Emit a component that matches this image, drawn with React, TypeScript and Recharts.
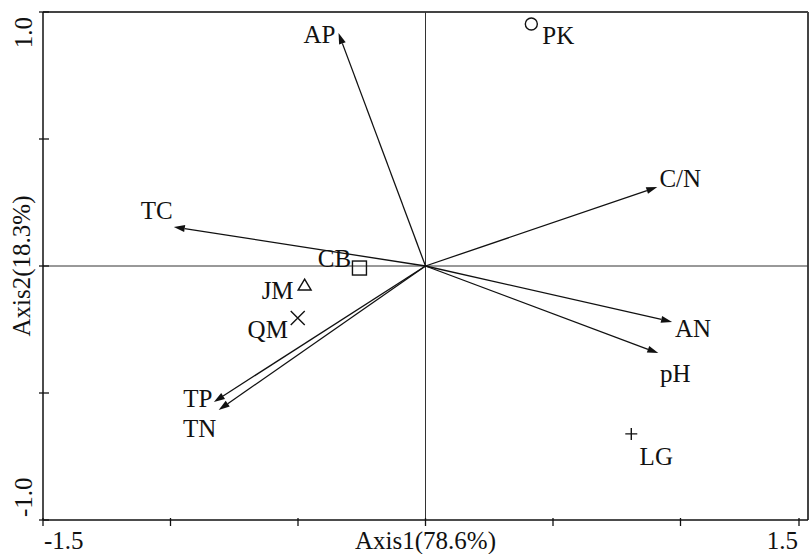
import { Label, ReferenceLine, Scatter, ScatterChart, XAxis, YAxis } from "recharts";

// environmental variables (arrows)
const varNames = ["AP", "C/N", "TC", "AN", "pH", "TP", "TN"];
const varAxis1 = [-0.341, 0.909, -0.987, 0.967, 0.913, -0.83, -0.811];
const varAxis2 = [0.917, 0.311, 0.154, -0.22, -0.343, -0.535, -0.567];

// sites (symbols)
const siteNames = ["PK", "CB", "JM", "QM", "LG"];
const siteAxis1 = [0.415, -0.259, -0.474, -0.501, 0.807];
const siteAxis2 = [0.953, -0.008, -0.075, -0.205, -0.661];

const xTicks = [-1.5, -1, -0.5, 0, 0.5, 1, 1.5];
const yTicks = [-1, -0.5, 0, 0.5, 1];

const FONT = "'Liberation Serif', 'Times New Roman', serif";
const INK = "#111";
const FS = 25;

// label placement (px from the point)
const varLabelOffset: Record<string, [number, number]> = {
  AP: [-19, 10],
  "C/N": [23, 0],
  TC: [-17, -8],
  AN: [21, 15],
  pH: [17, 29],
  TP: [-16, 5],
  TN: [-19, 27],
};

const siteStyle: Record<string, { marker: string; dx: number; dy: number }> = {
  PK: { marker: "circle", dx: 27, dy: 20 },
  CB: { marker: "square", dx: -25, dy: -1 },
  JM: { marker: "triangle", dx: -27, dy: 14 },
  QM: { marker: "cross", dx: -30, dy: 20 },
  LG: { marker: "plus", dx: 25, dy: 31 },
};

const siteData = siteNames.map((name, i) => ({ name, x: siteAxis1[i], y: siteAxis2[i] }));

function Arrow(props: any) {
  const { x1, y1, x2, y2, name } = props;
  const ang = Math.atan2(y2 - y1, x2 - x1);
  const len = 11;
  const hw = 3.5;
  const bx = x2 - len * Math.cos(ang);
  const by = y2 - len * Math.sin(ang);
  const px = -Math.sin(ang) * hw;
  const py = Math.cos(ang) * hw;
  const [dx, dy] = varLabelOffset[name];
  return (
    <g>
      <line x1={x1} y1={y1} x2={bx} y2={by} stroke={INK} strokeWidth={1.3} />
      <polygon points={`${x2},${y2} ${bx + px},${by + py} ${bx - px},${by - py}`} fill={INK} />
      <text x={x2 + dx} y={y2 + dy} textAnchor="middle" fontSize={FS} fontFamily={FONT} fill={INK}>
        {name}
      </text>
    </g>
  );
}

function SiteMarker(props: any) {
  const { cx, cy, payload } = props;
  const st = siteStyle[payload.name];
  const s = { stroke: INK, strokeWidth: 1.4, fill: "none" };
  let mark = null;
  if (st.marker === "circle") mark = <circle cx={cx} cy={cy} r={6} {...s} />;
  if (st.marker === "square") mark = <rect x={cx - 7} y={cy - 7} width={14} height={14} {...s} />;
  if (st.marker === "triangle")
    mark = <polygon points={`${cx},${cy - 6} ${cx + 6.5},${cy + 5} ${cx - 6.5},${cy + 5}`} {...s} />;
  if (st.marker === "cross")
    mark = <path d={`M${cx - 7},${cy - 7}L${cx + 7},${cy + 7}M${cx + 7},${cy - 7}L${cx - 7},${cy + 7}`} {...s} />;
  if (st.marker === "plus")
    mark = <path d={`M${cx - 6},${cy}L${cx + 6},${cy}M${cx},${cy - 6}L${cx},${cy + 6}`} {...s} />;
  return (
    <g>
      {mark}
      <text x={cx + st.dx} y={cy + st.dy} textAnchor="middle" fontSize={FS} fontFamily={FONT} fill={INK}>
        {payload.name}
      </text>
    </g>
  );
}

function XTick(props: any) {
  const { x, y, payload } = props;
  const v = payload.value;
  return (
    <g>
      <line x1={x} y1={y - 2} x2={x} y2={y + 6} stroke={INK} strokeWidth={1.3} />
      {v === -1.5 && (
        <text x={x + 1} y={y + 29} textAnchor="start" fontSize={FS} fontFamily={FONT} fill={INK}>
          -1.5
        </text>
      )}
      {v === 1.5 && (
        <text x={x - 1} y={y + 29} textAnchor="end" fontSize={FS} fontFamily={FONT} fill={INK}>
          1.5
        </text>
      )}
    </g>
  );
}

function YTick(props: any) {
  const { x, y, payload } = props;
  const v = payload.value;
  return (
    <g>
      <line x1={x - 4} y1={y} x2={x + 6} y2={y} stroke={INK} strokeWidth={1.3} />
      {v === 1 && (
        <text transform={`translate(${x - 11},${y + 5}) rotate(-90)`} textAnchor="end" fontSize={FS} fontFamily={FONT} fill={INK}>
          1.0
        </text>
      )}
      {v === -1 && (
        <text transform={`translate(${x - 11},${y - 3}) rotate(-90)`} textAnchor="start" fontSize={FS} fontFamily={FONT} fill={INK}>
          -1.0
        </text>
      )}
    </g>
  );
}

export default function App() {
  return (
    <div style={{ position: "absolute", left: 0, top: 0, background: "#fff" }}>
      <ScatterChart width={809} height={554} margin={{ top: 12, right: 1, bottom: 0, left: 0 }}>
        <XAxis
          type="number"
          dataKey="x"
          domain={[-1.5, 1.5]}
          ticks={xTicks}
          height={34}
          tickSize={0}
          tickMargin={0}
          tick={<XTick />}
          axisLine={{ stroke: INK, strokeWidth: 1.5 }}
          tickLine={false}
        >
          <Label value="Axis1(78.6%)" position="insideBottom" offset={5} fontSize={FS} fontFamily={FONT} fill={INK} />
        </XAxis>
        <YAxis
          type="number"
          dataKey="y"
          domain={[-1, 1]}
          ticks={yTicks}
          width={43}
          tickSize={0}
          tickMargin={0}
          tick={<YTick />}
          axisLine={{ stroke: INK, strokeWidth: 1.5 }}
          tickLine={false}
        >
          <Label value="Axis2(18.3%)" angle={-90} position="center" fontSize={FS} fontFamily={FONT} fill={INK} />
        </YAxis>
        <ReferenceLine y={1} stroke="#444" strokeWidth={2} />
        <ReferenceLine x={1.5} stroke="#444" strokeWidth={2} />
        <ReferenceLine y={0} stroke="#333" strokeWidth={1} />
        <ReferenceLine x={0} stroke="#333" strokeWidth={1} />
        {varNames.map((name, i) => (
          <ReferenceLine
            key={name}
            segment={[
              { x: 0, y: 0 },
              { x: varAxis1[i], y: varAxis2[i] },
            ]}
            shape={(p: any) => <Arrow {...p} name={name} />}
          />
        ))}
        <Scatter data={siteData} shape={<SiteMarker />} isAnimationActive={false} />
      </ScatterChart>
    </div>
  );
}
